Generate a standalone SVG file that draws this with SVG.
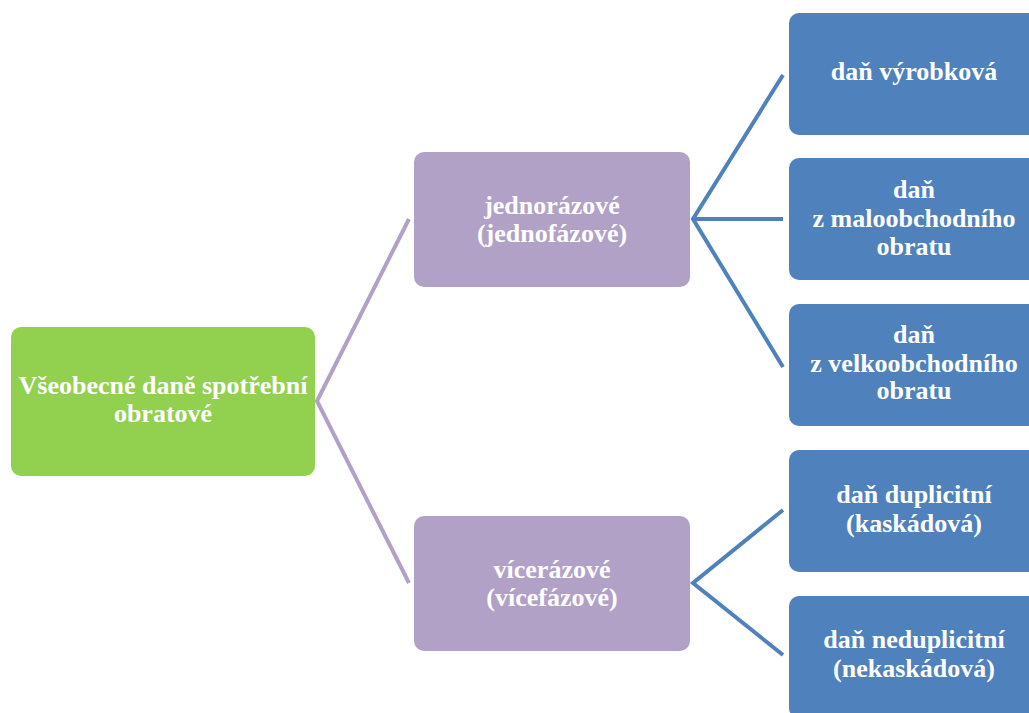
<svg xmlns="http://www.w3.org/2000/svg" width="1029" height="713" viewBox="0 0 1029 713">
<style>
.t{font-family:"Liberation Serif","Times New Roman",serif;font-weight:bold;font-size:26px;fill:#fff;text-anchor:middle}
.g{fill:#92D050}
.p{fill:#B2A1C7}
.b{fill:#4F81BD}
.cp{stroke:#B2A1C7;stroke-width:4;fill:none}
.cb{stroke:#4F81BD;stroke-width:4;fill:none}
</style>
<rect width="1029" height="713" fill="#fff"/>
<g id="connectors">
<polyline class="cp" points="409,219 317,401 409,583"/>
<polyline class="cb" points="783,75 693,219 783,367"/>
<line class="cb" x1="693" y1="219" x2="783" y2="219"/>
<polyline class="cb" points="783,510 693,583 783,655"/>
</g>
<g id="root">
<rect class="g" x="11" y="327" width="304" height="149" rx="10"/>
<text class="t" x="163" y="394">Všeobecné daně spotřební</text>
<text class="t" x="163" y="422">obratové</text>
</g>
<g id="jednorazove">
<rect class="p" x="414" y="152" width="276" height="135" rx="10"/>
<text class="t" x="552" y="214">jednorázové</text>
<text class="t" x="552" y="242">(jednofázové)</text>
</g>
<g id="vicerazove">
<rect class="p" x="414" y="516" width="276" height="135" rx="10"/>
<text class="t" x="552" y="578">vícerázové</text>
<text class="t" x="552" y="606">(vícefázové)</text>
</g>
<g id="vyrobkova">
<rect class="b" x="789" y="13" width="250" height="122" rx="10"/>
<text class="t" x="914" y="80">daň výrobková</text>
</g>
<g id="maloobchodni">
<rect class="b" x="789" y="158" width="250" height="122" rx="10"/>
<text class="t" x="914" y="198">daň</text>
<text class="t" x="914" y="227">z maloobchodního</text>
<text class="t" x="914" y="255">obratu</text>
</g>
<g id="velkoobchodni">
<rect class="b" x="789" y="304" width="250" height="122" rx="10"/>
<text class="t" x="914" y="343">daň</text>
<text class="t" x="914" y="372">z velkoobchodního</text>
<text class="t" x="914" y="399">obratu</text>
</g>
<g id="duplicitni">
<rect class="b" x="789" y="450" width="250" height="122" rx="10"/>
<text class="t" x="914" y="503">daň duplicitní</text>
<text class="t" x="914" y="532">(kaskádová)</text>
</g>
<g id="neduplicitni">
<rect class="b" x="789" y="596" width="250" height="122" rx="10"/>
<text class="t" x="914" y="648">daň neduplicitní</text>
<text class="t" x="914" y="677">(nekaskádová)</text>
</g>
</svg>
